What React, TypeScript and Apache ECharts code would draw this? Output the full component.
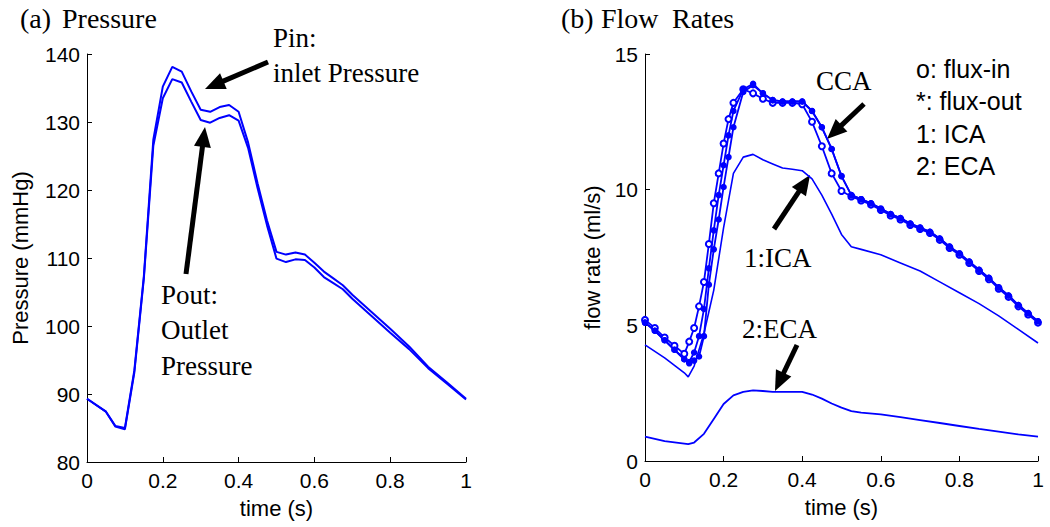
import React, { useEffect, useRef } from "react";
import * as echarts from "echarts";

// ---------- Data ----------
const tPressure = [0, 0.05, 0.075, 0.1, 0.125, 0.15, 0.175, 0.2, 0.225, 0.25, 0.275, 0.3, 0.325, 0.35, 0.375, 0.4, 0.425, 0.45, 0.475, 0.5, 0.525, 0.55, 0.575, 0.6, 0.625, 0.65, 0.675, 0.7, 0.75, 0.8, 0.85, 0.9, 0.95, 1.0];
const pIn = [89.3, 87.4, 85.3, 85.0, 93.5, 107.3, 127.4, 135.2, 138.1, 137.4, 134.5, 131.8, 131.5, 132.2, 132.5, 131.5, 127.0, 121.0, 115.5, 110.9, 110.5, 110.8, 110.5, 109.3, 108.0, 107.0, 106.0, 104.6, 102.1, 99.6, 97.0, 94.0, 91.7, 89.3];
const pOut = [89.3, 87.4, 85.2, 84.8, 93.2, 107.0, 126.5, 133.5, 136.3, 135.8, 133.0, 130.3, 129.9, 130.6, 131.0, 130.2, 126.2, 120.3, 114.8, 109.9, 109.4, 109.8, 109.7, 108.6, 107.2, 106.3, 105.4, 104.0, 101.5, 99.0, 96.6, 93.8, 91.5, 89.2];

const tFlux = [0, 0.025, 0.05, 0.075, 0.1, 0.1125, 0.125, 0.1375, 0.15, 0.1625, 0.175, 0.1875, 0.2, 0.2125, 0.225, 0.25, 0.275, 0.3, 0.325, 0.35, 0.375, 0.4, 0.425, 0.45, 0.475, 0.5, 0.525, 0.55, 0.575, 0.6, 0.625, 0.65, 0.675, 0.7, 0.725, 0.75, 0.775, 0.8, 0.825, 0.85, 0.875, 0.9, 0.925, 0.95, 0.975, 1];
const ccaFluxIn = [5.2, 4.9, 4.55, 4.25, 3.95, 4.4, 4.9, 5.7, 6.6, 8.0, 9.5, 10.6, 11.7, 12.6, 13.2, 13.7, 13.55, 13.35, 13.2, 13.2, 13.2, 13.15, 12.5, 11.6, 10.6, 9.95, 9.75, 9.6, 9.45, 9.25, 9.05, 8.9, 8.7, 8.55, 8.4, 8.15, 7.85, 7.6, 7.3, 7.0, 6.7, 6.35, 6.05, 5.7, 5.4, 5.1];
const ccaFluxOut = [5.1, 4.8, 4.45, 4.1, 3.75, 3.65, 4.0, 4.6, 5.6, 7.1, 8.5, 9.8, 10.9, 12.0, 12.9, 13.7, 13.9, 13.55, 13.3, 13.25, 13.25, 13.25, 12.9, 12.3, 11.5, 10.5, 9.8, 9.65, 9.5, 9.3, 9.1, 8.95, 8.75, 8.6, 8.45, 8.2, 7.9, 7.65, 7.35, 7.05, 6.75, 6.4, 6.1, 5.75, 5.45, 5.15];
const branchFluxOut = [5.1, 4.8, 4.45, 4.1, 3.75, 3.6, 3.7, 3.85, 4.6, 6.5, 7.8, 8.9, 10.1, 11.2, 12.3, 13.6, 13.85, 13.55, 13.3, 13.25, 13.25, 13.25, 12.9, 12.3, 11.5, 10.5, 9.8, 9.65, 9.5, 9.3, 9.1, 8.95, 8.75, 8.6, 8.45, 8.2, 7.9, 7.65, 7.35, 7.05, 6.75, 6.4, 6.1, 5.75, 5.45, 5.15];

const tBranch = [0, 0.05, 0.1, 0.11, 0.125, 0.15, 0.175, 0.2, 0.225, 0.25, 0.275, 0.3, 0.325, 0.35, 0.375, 0.4, 0.425, 0.45, 0.475, 0.5, 0.525, 0.55, 0.6, 0.65, 0.7, 0.75, 0.8, 0.85, 0.9, 0.95, 1];
const icaFlow = [4.28, 3.8, 3.25, 3.1, 3.5, 4.7, 6.3, 8.6, 10.6, 11.2, 11.3, 11.1, 10.95, 10.8, 10.75, 10.7, 10.4, 9.8, 9.1, 8.35, 7.9, 7.8, 7.6, 7.3, 7.0, 6.6, 6.2, 5.8, 5.35, 4.85, 4.35];
const ecaFlow = [0.9, 0.73, 0.64, 0.62, 0.68, 1.0, 1.55, 2.1, 2.42, 2.55, 2.6, 2.58, 2.55, 2.55, 2.55, 2.55, 2.45, 2.3, 2.12, 1.97, 1.84, 1.78, 1.72, 1.62, 1.51, 1.4, 1.29, 1.18, 1.08, 0.98, 0.9];

const timeTicks = [0, 0.2, 0.4, 0.6, 0.8, 1];

const BLUE = "#0000ff";
const SERIF = '"Liberation Serif", "Times New Roman", serif';
const SANS = '"Liberation Sans", Arial, sans-serif';

const pairs = (t: number[], v: number[]) => t.map((x, i) => [x, v[i]]);

function arrow(x1: number, y1: number, x2: number, y2: number) {
  const dx = x2 - x1, dy = y2 - y1;
  const len = Math.sqrt(dx * dx + dy * dy);
  const ux = dx / len, uy = dy / len;
  const hl = 20, hw = 17;
  const bx = x2 - ux * hl, by = y2 - uy * hl;
  const px = -uy, py = ux;
  return [
    {
      type: "line",
      shape: { x1, y1, x2: bx + ux * 2, y2: by + uy * 2 },
      style: { stroke: "#000", lineWidth: 5 },
      silent: true,
    },
    {
      type: "polygon",
      shape: {
        points: [
          [x2, y2],
          [bx + px * hw / 2, by + py * hw / 2],
          [bx - px * hw / 2, by - py * hw / 2],
        ],
      },
      style: { fill: "#000" },
      silent: true,
    },
  ];
}

function txt(text: string, x: number, y: number, family: string, size: number) {
  return {
    type: "text",
    silent: true,
    style: {
      text,
      x,
      y,
      fill: "#000",
      fontFamily: family,
      fontSize: size,
      textAlign: "left",
      textVerticalAlign: "middle",
    },
  };
}

export default function App() {
  const ref = useRef<HTMLDivElement>(null);

  useEffect(() => {
    if (!ref.current) return;
    const chart = echarts.init(ref.current, undefined, { renderer: "svg" });

    const axisCommon = {
      axisLine: { show: true, lineStyle: { color: "#000", width: 1 } },
      axisTick: { show: true, inside: true, length: 5, lineStyle: { color: "#000" } },
      splitLine: { show: false },
      axisLabel: { color: "#000", fontFamily: SANS, fontSize: 21 },
      nameTextStyle: { color: "#000", fontFamily: SANS, fontSize: 22 },
      nameLocation: "middle" as const,
    };

    const xAxisFor = (gridIndex: number) => ({
      ...axisCommon,
      type: "value" as const,
      gridIndex,
      min: 0,
      max: 1,
      interval: 0.2,
      name: "time (s)",
      nameGap: 35,
      axisLabel: {
        ...axisCommon.axisLabel,
        margin: 8,
        formatter: (v: number) => {
          const hit = timeTicks.find((t) => Math.abs(t - v) < 1e-9);
          return hit === undefined ? "" : String(hit);
        },
      },
    });

    const lineSeries = (
      name: string,
      xi: number,
      data: number[][],
      width: number,
      symbol: string,
      symbolSize: number
    ) => ({
      name,
      type: "line" as const,
      xAxisIndex: xi,
      yAxisIndex: xi,
      data,
      showSymbol: symbol !== "none",
      symbol,
      symbolSize,
      lineStyle: { color: BLUE, width },
      itemStyle: { color: BLUE, borderColor: BLUE, borderWidth: 1.5 },
      emphasis: { disabled: true },
      z: 3,
    });

    const graphics: any[] = [
      txt("(a)", 20, 18, SERIF, 28),
      txt("Pressure", 62, 18, SERIF, 28),
      txt("(b)", 561, 18, SERIF, 28),
      txt("Flow", 601, 18, SERIF, 28),
      txt("Rates", 672, 18, SERIF, 28),
      txt("Pin:", 273, 38, SERIF, 27),
      txt("inlet Pressure", 273, 73, SERIF, 27),
      txt("Pout:", 161, 295, SERIF, 27),
      txt("Outlet", 161, 330, SERIF, 27),
      txt("Pressure", 161, 366, SERIF, 27),
      txt("CCA", 816, 81, SERIF, 27),
      txt("1:ICA", 744, 258, SERIF, 27),
      txt("2:ECA", 742, 329, SERIF, 27),
      txt("o: flux-in", 916, 69, SANS, 25),
      txt("*: flux-out", 916, 101, SANS, 25),
      txt("1: ICA", 916, 134, SANS, 25),
      txt("2: ECA", 916, 166, SANS, 25),
      ...arrow(268, 62, 205, 89),
      ...arrow(186, 274, 205, 127),
      ...arrow(864, 104, 827, 139),
      ...arrow(774, 229, 810, 175),
      ...arrow(797, 345, 775, 391),
    ];

    chart.setOption({
      animation: false,
      backgroundColor: "#fff",
      grid: [
        { left: 87, top: 54, width: 379, height: 408 },
        { left: 645, top: 54, width: 393, height: 407 },
      ],
      xAxis: [xAxisFor(0), xAxisFor(1)],
      yAxis: [
        {
          ...axisCommon,
          type: "value",
          gridIndex: 0,
          min: 80,
          max: 140,
          interval: 10,
          name: "Pressure (mmHg)",
          nameGap: 56,
          axisLabel: { ...axisCommon.axisLabel, margin: 7 },
        },
        {
          ...axisCommon,
          type: "value",
          gridIndex: 1,
          min: 0,
          max: 15,
          interval: 5,
          name: "flow rate (ml/s)",
          nameGap: 42,
          axisLabel: { ...axisCommon.axisLabel, margin: 7 },
        },
      ],
      series: [
        lineSeries("Pin: inlet Pressure", 0, pairs(tPressure, pIn), 2, "none", 0),
        lineSeries("Pout: Outlet Pressure", 0, pairs(tPressure, pOut), 2, "none", 0),
        lineSeries("CCA flux-in", 1, pairs(tFlux, ccaFluxIn), 1.8, "emptyCircle", 6),
        lineSeries("CCA flux-out", 1, pairs(tFlux, ccaFluxOut), 1.8, "circle", 5),
        lineSeries("branch flux-out", 1, pairs(tFlux, branchFluxOut), 1.8, "circle", 5),
        lineSeries("1: ICA", 1, pairs(tBranch, icaFlow), 1.6, "none", 0),
        lineSeries("2: ECA", 1, pairs(tBranch, ecaFlow), 1.8, "none", 0),
      ],
      graphic: graphics,
    });

    return () => chart.dispose();
  }, []);

  return (
    <div
      ref={ref}
      style={{ position: "fixed", left: 0, top: 0, width: 1050, height: 527, background: "#fff" }}
    />
  );
}
